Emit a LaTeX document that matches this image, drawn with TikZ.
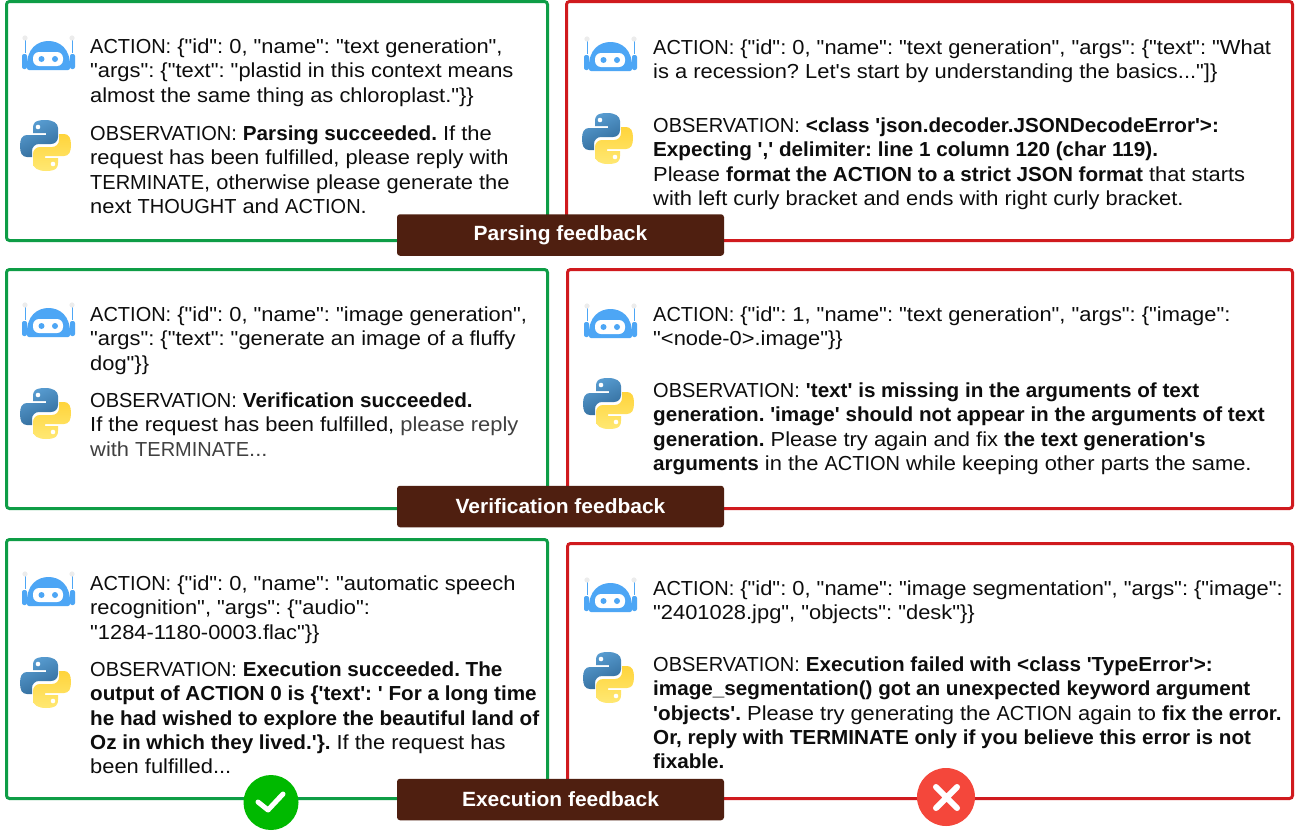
\documentclass[tikz,border=0pt]{standalone}
\usepackage{fontspec}
\newfontfamily\lsfam{Liberation Sans}[FakeStretch=1.078,BoldFeatures={FakeStretch=1.018}]
\newfontfamily\capfam{Liberation Sans}[FakeStretch=0.985]
\newcommand{\cp}[1]{{\capfam #1}}
\frenchspacing
\definecolor{okgreen}{HTML}{0E9D46}
\definecolor{badred}{HTML}{D01A1E}
\definecolor{tagbrown}{HTML}{4F1F10}
\definecolor{botblue}{HTML}{4DA6F5}
\definecolor{pyblueA}{HTML}{5A9FD4}
\definecolor{pyblueB}{HTML}{306998}
\definecolor{pyyelA}{HTML}{FFE873}
\definecolor{pyyelB}{HTML}{FFD43B}
\definecolor{yesgreen}{HTML}{00B900}
\definecolor{nored}{HTML}{F4473B}
\newcommand{\fs}{\rule{0pt}{16pt}}
\newcommand{\botic}[3]{\begin{scope}[shift={(#1,#2)}]
 \draw[botblue,line width=1pt] (3,4) -- (3,18) (50,4) -- (50,18);
 \fill[gray!15] (3,3) circle (2.6) (50,3) circle (2.6);
 \fill[botblue,rounded corners=2pt] (0,19) rectangle (5,34);
 \fill[botblue,rounded corners=2pt] (48,19) rectangle (53,34);
 \fill[botblue] (5,33) .. controls (4,13) and (16,6) .. (26.5,6) .. controls (37,6) and (49,13) .. (48,33) .. controls (48,34) and (47,35) .. (46,35) -- (7,35) .. controls (6,35) and (5,34) .. (5,33) -- cycle;
 \fill[white,rounded corners=6pt] (11,17) rectangle (41,31);
 \fill[botblue] (19.5,24) circle (3) (33,24) circle (3);
\end{scope}}
\newcommand{\pyic}[3]{\begin{scope}[shift={(#1,#2)}]
 \shade[left color=pyblueA,right color=pyblueB,shading angle=25] (25,0) .. controls (14,0) and (13,4) .. (13,8) -- (13,13) -- (26,13) -- (26,15) -- (7,15) .. controls (2,15) and (0,19) .. (0,26) .. controls (0,33) and (2,37) .. (7,37) -- (12,37) -- (12,31) .. controls (12,27) and (15,24) .. (19,24) -- (31,24) .. controls (35,24) and (38,21) .. (38,17) -- (38,8) .. controls (38,3) and (33,0) .. (25,0) -- cycle;
 \shade[top color=pyyelB,bottom color=pyyelA] (26,51) .. controls (37,51) and (38,47) .. (38,43) -- (38,38) -- (25,38) -- (25,36) -- (44,36) .. controls (49,36) and (51,32) .. (51,25) .. controls (51,18) and (49,14) .. (44,14) -- (39,14) -- (39,20) .. controls (39,24) and (36,27) .. (32,27) -- (20,27) .. controls (16,27) and (13,30) .. (13,34) -- (13,43) .. controls (13,48) and (18,51) .. (26,51) -- cycle;
 \fill[white] (18,7) circle (2.3) (33,44) circle (2.3);
\end{scope}}
\tikzset{
 okbox/.style={draw=okgreen,line width=3pt,rounded corners=3pt,fill=white},
 badbox/.style={draw=badred,line width=3pt,rounded corners=3pt,fill=white},
 txt/.style={anchor=north west,inner sep=0pt,align=left,font=\lsfam\fontsize{20.3}{24.4}\selectfont,text=black!95},
 tag/.style={fill=tagbrown,rounded corners=3pt,text=white,inner sep=0pt,minimum width=327pt,minimum height=41.5pt,font=\lsfam\fontsize{20.6}{24}\selectfont\bfseries},
}
\begin{document}
\begin{tikzpicture}[x=1pt,y=-1pt]
\useasboundingbox (0,0) rectangle (1295,830);
\fill[white] (0,0) rectangle (1295,830);
\draw[okbox] (6.5,1.5) rectangle (547.5,240.5);
\draw[badbox] (566.5,1.5) rectangle (1292.5,240.5);
\draw[okbox] (6.5,269.5) rectangle (547.5,508.5);
\draw[badbox] (567.5,269.5) rectangle (1292.5,508.5);
\draw[okbox] (6.5,539.5) rectangle (547.5,798.5);
\draw[badbox] (567.5,543.5) rectangle (1292.5,798.5);
% row 1
\botic{22}{35}{}\pyic{20}{120}{}
\botic{584}{36}{}\pyic{582}{113}{}
\node[txt] (a1) at (90,37) {\fs \cp{ACTION:} \{"id": 0, "name": "text generation",\\"args": \{"text": "plastid in this context means\\almost the same thing as chloroplast."\}\}};
\node[txt] (o1) at (90,124) {\fs \cp{OBSERVATION:} \textbf{Parsing succeeded.} If the\\request has been fulfilled, please reply with\\\cp{TERMINATE}, otherwise please generate the\\next \cp{THOUGHT} and \cp{ACTION}.};
\node[txt] (a2) at (653,38) {\fs \cp{ACTION:} \{"id": 0, "name": "text generation", "args": \{"text": "What\\is a recession? Let's start by understanding the basics..."]\}};
\node[txt] (o2) at (653,116) {\fs \cp{OBSERVATION:} \textbf{<class 'json.decoder.JSONDecodeError'>:}\\\textbf{Expecting ',' delimiter: line 1 column 120 (char 119).}\\Please \textbf{format the ACTION to a strict JSON format} that starts\\with left curly bracket and ends with right curly bracket.};
% row 2
\botic{22}{302}{}\pyic{20}{388}{}
\botic{584}{303}{}\pyic{583}{378}{}
\node[txt] (a3) at (90,305) {\fs \cp{ACTION:} \{"id": 0, "name": "image generation",\\"args": \{"text": "generate an image of a fluffy\\dog"\}\}};
\node[txt] (o3) at (90,391) {\fs \cp{OBSERVATION:} \textbf{Verification succeeded.}\\If the request has been fulfilled, \textcolor{black!75}{please reply}\\\textcolor{black!75}{with \cp{TERMINATE}...}};
\node[txt] (a4) at (653,305) {\fs \cp{ACTION:} \{"id": 1, "name": "text generation", "args": \{"image":\\"<node-0>.image"\}\}};
\node[txt] (o4) at (653,381) {\fs \cp{OBSERVATION:} \textbf{'text' is missing in the arguments of text}\\\textbf{generation. 'image' should not appear in the arguments of text}\\\textbf{generation.} Please try again and fix \textbf{the text generation's}\\\textbf{arguments} in the \cp{ACTION} while keeping other parts the same.};
% row 3
\botic{22}{571}{}\pyic{20}{657}{}
\botic{584}{577}{}\pyic{583}{652}{}
\node[txt] (a5) at (90,574) {\fs \cp{ACTION:} \{"id": 0, "name": "automatic speech\\recognition", "args": \{"audio":\\"1284-1180-0003.flac"\}\}};
\node[txt] (o5) at (90,660) {\fs \cp{OBSERVATION:} \textbf{Execution succeeded. The}\\\textbf{output of ACTION 0 is \{'text': ' For a long time}\\\textbf{he had wished to explore the beautiful land of}\\\textbf{Oz in which they lived.'\}.} If the request has\\been fulfilled...};
\node[txt] (a6) at (653,579) {\fs \cp{ACTION:} \{"id": 0, "name": "image segmentation", "args": \{"image":\\"2401028.jpg", "objects": "desk"\}\}};
\node[txt] (o6) at (653,655) {\fs \cp{OBSERVATION:} \textbf{Execution failed with <class 'TypeError'>:}\\\textbf{image\_segmentation() got an unexpected keyword argument}\\\textbf{'objects'.} Please try generating the \cp{ACTION} again to \textbf{fix the error.}\\\textbf{Or, reply with TERMINATE only if you believe this error is not}\\\textbf{fixable.}};
% tags
\node[tag] (t1) at (560.5,235) {\raisebox{-1pt}{Parsing feedback}};
\node[tag] (t2) at (560.5,506.5) {\raisebox{-1pt}{Verification feedback}};
\node[tag] (t3) at (560.5,799.5) {\raisebox{-1pt}{Execution feedback}};
% marks
\node[circle,fill=yesgreen,minimum size=55pt,inner sep=0pt] (yes) at (271,802.5) {};
\draw[white,line width=5pt,line cap=round,line join=round] (258,802) -- (268,810) -- (283,794);
\node[circle,fill=nored,minimum size=58pt,inner sep=0pt] (no) at (946,797) {};
\draw[white,line width=6pt,line cap=round] (936,787) -- (957,808) (957,787) -- (936,808);
\end{tikzpicture}
\end{document}
